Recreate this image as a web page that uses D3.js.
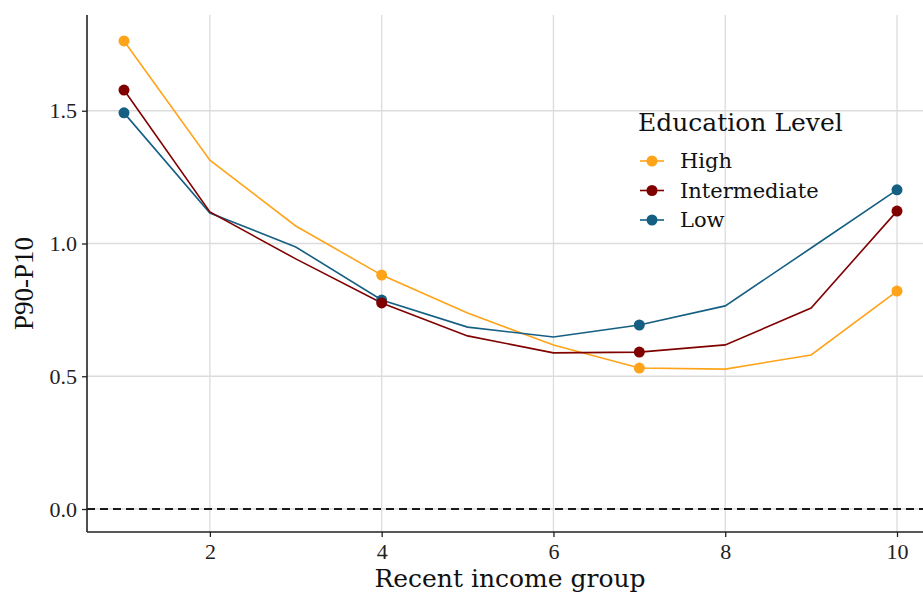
<!DOCTYPE html>
<html>
<head>
<meta charset="utf-8">
<script src="https://cdn.jsdelivr.net/npm/d3@7"></script>
<style>
  html, body { margin: 0; padding: 0; background: #fff; }
  svg { display: block; font-family: "Liberation Serif", "DejaVu Serif", serif; }
  .wide { font-family: "DejaVu Serif", "Liberation Serif", serif; }
</style>
</head>
<body>
<svg id="chart" width="923" height="595"></svg>
<script>
// Recent income group (x) and P90-P10 dispersion by education level
const incomeGroups = [1, 2, 3, 4, 5, 6, 7, 8, 9, 10];
const highValues = [1.763, 1.314, 1.066, 0.881, 0.738, 0.618, 0.531, 0.527, 0.580, 0.821];
const intermediateValues = [1.578, 1.119, 0.942, 0.776, 0.652, 0.588, 0.591, 0.618, 0.757, 1.122];
const lowValues = [1.492, 1.115, 0.987, 0.787, 0.685, 0.648, 0.693, 0.765, 0.983, 1.202];
const markedGroups = [1, 4, 7, 10];
const xTicks = [2, 4, 6, 8, 10];
const yTicks = [0.0, 0.5, 1.0, 1.5];
const seriesNames = ["High", "Intermediate", "Low"];
const seriesColors = ["#ffa319", "#800000", "#155f83"];

const series = [
  { name: seriesNames[0], color: seriesColors[0], values: highValues },
  { name: seriesNames[1], color: seriesColors[1], values: intermediateValues },
  { name: seriesNames[2], color: seriesColors[2], values: lowValues }
];

const svg = d3.select("#chart");
const plotLeft = 87, plotRight = 923, plotTop = 15, plotBottom = 532;

const x = d3.scaleLinear().domain([1, 10]).range([124, 897]);
const y = d3.scaleLinear().domain([-0.0866, 1.8606]).range([plotBottom, plotTop]);

svg.append("defs").append("clipPath").attr("id", "plot-clip")
  .append("rect").attr("x", plotLeft).attr("y", plotTop)
  .attr("width", plotRight - plotLeft).attr("height", plotBottom - plotTop);

// Grid
const grid = svg.append("g").attr("class", "grid");
grid.selectAll("line.gx").data(xTicks).join("line")
  .attr("x1", d => x(d)).attr("x2", d => x(d))
  .attr("y1", plotTop).attr("y2", plotBottom)
  .attr("stroke", "#dcdcdc").attr("stroke-width", 1.3);
grid.selectAll("line.gy").data(yTicks).join("line")
  .attr("x1", plotLeft).attr("x2", plotRight)
  .attr("y1", d => y(d)).attr("y2", d => y(d))
  .attr("stroke", "#dcdcdc").attr("stroke-width", 1.3);

// Zero reference line
svg.append("line")
  .attr("x1", plotLeft).attr("x2", plotRight)
  .attr("y1", y(0)).attr("y2", y(0))
  .attr("stroke", "#1a1a1a").attr("stroke-width", 1.8)
  .attr("stroke-dasharray", "8,5");

// Lines and points
const plot = svg.append("g").attr("clip-path", "url(#plot-clip)");
const line = d3.line().x((d, i) => x(incomeGroups[i])).y(d => y(d));
const drawOrder = [0, 2, 1];
drawOrder.forEach(k => {
  const s = series[k];
  plot.append("path").datum(s.values)
    .attr("d", line).attr("fill", "none")
    .attr("stroke", s.color).attr("stroke-width", 1.6);
});
drawOrder.forEach(k => {
  const s = series[k];
  plot.selectAll(null).data(markedGroups).join("circle")
    .attr("cx", d => x(d))
    .attr("cy", d => y(s.values[incomeGroups.indexOf(d)]))
    .attr("r", 5.5).attr("fill", s.color);
});

// Axes
const xAxis = svg.append("g").attr("transform", `translate(0,${plotBottom})`)
  .call(d3.axisBottom(x).tickValues(xTicks).tickSize(5).tickPadding(6).tickFormat(d3.format("d")));
xAxis.select(".domain").remove();
xAxis.append("line").attr("x1", plotLeft).attr("x2", plotRight).attr("y1", 0).attr("y2", 0)
  .attr("stroke", "#222").attr("stroke-width", 1.6);
xAxis.selectAll(".tick line").attr("stroke", "#222").attr("stroke-width", 1.3);
xAxis.selectAll(".tick text").attr("font-size", 22).attr("fill", "#222")
  .attr("font-family", "Liberation Serif, DejaVu Serif, serif");

const yAxis = svg.append("g").attr("transform", `translate(${plotLeft},0)`)
  .call(d3.axisLeft(y).tickValues(yTicks).tickSize(5).tickPadding(5).tickFormat(d3.format(".1f")));
yAxis.select(".domain").remove();
yAxis.append("line").attr("x1", 0).attr("x2", 0).attr("y1", plotTop).attr("y2", plotBottom)
  .attr("stroke", "#222").attr("stroke-width", 1.6);
yAxis.selectAll(".tick line").attr("stroke", "#222").attr("stroke-width", 1.3);
yAxis.selectAll(".tick text").attr("font-size", 22).attr("fill", "#222")
  .attr("font-family", "Liberation Serif, DejaVu Serif, serif");

// Axis titles
svg.append("text").attr("class", "wide").attr("x", 510).attr("y", 587)
  .attr("text-anchor", "middle").attr("font-size", 25).attr("fill", "#111")
  .text("Recent income group");
svg.append("text")
  .attr("transform", `translate(33,${(plotTop + plotBottom) / 2 + 10}) rotate(-90)`)
  .attr("text-anchor", "middle").attr("font-size", 27).attr("fill", "#111")
  .text("P90-P10");

// Legend
const legend = svg.append("g").attr("transform", "translate(638,0)");
legend.append("text").attr("class", "wide").attr("x", 0).attr("y", 131)
  .attr("font-size", 25).attr("fill", "#111").text("Education Level");
series.forEach((s, i) => {
  const ly = 161 + i * 29.5;
  legend.append("line").attr("x1", 2).attr("x2", 26).attr("y1", ly).attr("y2", ly)
    .attr("stroke", s.color).attr("stroke-width", 1.6);
  legend.append("circle").attr("cx", 14).attr("cy", ly).attr("r", 5.5).attr("fill", s.color);
  legend.append("text").attr("class", "wide").attr("x", 42).attr("y", ly + 7)
    .attr("font-size", 21).attr("fill", "#111").text(s.name);
});
</script>
</body>
</html>
